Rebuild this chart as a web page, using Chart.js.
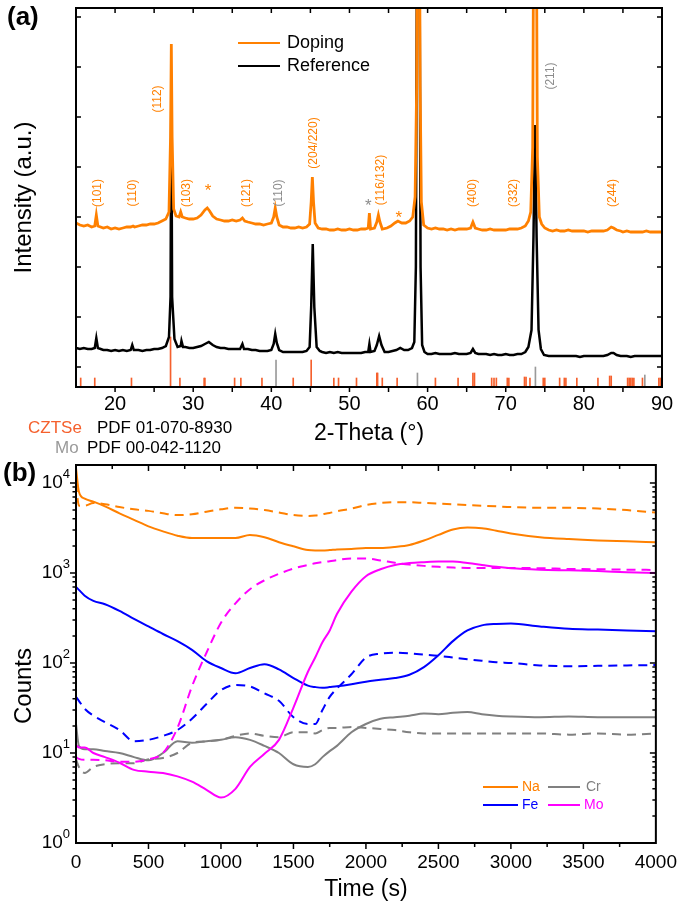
<!DOCTYPE html>
<html>
<head>
<meta charset="utf-8">
<script src="https://cdn.jsdelivr.net/npm/chart.js@4.4.1/dist/chart.umd.min.js"></script>
<style>
  body { margin: 0; background: #fff; width: 685px; height: 914px; position: relative; overflow: hidden; }
  canvas { position: absolute; left: 0; }
  #xrd { top: 0; }
  #sims { top: 455px; }
</style>
</head>
<body>
<canvas id="xrd" width="685" height="460"></canvas>
<canvas id="sims" width="685" height="459"></canvas>
<script>
// ---- (a) XRD patterns (intensity in arbitrary units) ----
const dopingTheta = [
  15, 15.5, 16, 16.5, 17, 17.4, 17.6, 17.8, 18.5, 19,
  19.5, 20, 20.5, 21, 21.5, 22, 22.3, 22.5, 23, 23.5,
  24, 24.5, 25, 25.5, 26, 26.5, 26.9, 27.1, 27.2, 27.3,
  27.5, 27.8, 28.2, 28.4, 28.6, 29, 29.5, 30, 30.5, 31,
  31.5, 31.8, 32.1, 32.5, 33, 33.5, 34, 34.5, 35, 35.5,
  36, 36.3, 36.6, 37, 37.5, 38, 38.5, 39, 39.5, 40,
  40.3, 40.5, 40.7, 41, 41.5, 42, 42.5, 43, 43.5, 44,
  44.5, 44.9, 45.1, 45.25, 45.4, 45.6, 46, 46.5, 47, 47.5,
  48, 48.5, 49, 49.5, 50, 50.5, 51, 51.5, 52, 52.4,
  52.55, 52.7, 53.2, 53.5, 53.7, 53.9, 54.2, 54.8, 55.3, 55.8,
  56.2, 56.7, 57.2, 57.7, 58.1, 58.4, 58.6, 58.75, 58.9, 59.05,
  59.2, 59.5, 60, 60.5, 61, 61.5, 62, 62.5, 63, 63.5,
  64, 64.5, 65, 65.5, 65.8, 66.1, 66.5, 67, 67.5, 68,
  68.5, 69, 69.5, 70, 70.5, 71, 71.5, 72, 72.5, 72.9,
  73.2, 73.45, 73.65, 73.85, 74.05, 74.3, 74.6, 75, 75.5, 76,
  76.5, 77, 77.5, 78, 78.5, 79, 79.5, 80, 80.5, 81,
  81.5, 82, 82.5, 83, 83.5, 83.8, 84.2, 84.7, 85, 85.5,
  86, 86.5, 87, 87.5, 88, 88.5, 89, 89.5, 90
];
const dopingCounts = [
  164, 162, 161, 162, 160, 161, 172, 161, 159, 160,
  158, 159, 158, 159, 160, 160, 161, 160, 161, 162,
  162, 163, 163, 164, 166, 168, 175, 250, 343, 250,
  178, 171, 170, 175, 170, 169, 168, 168, 169, 172,
  177, 179, 176, 171, 168, 167, 166, 166, 167, 166,
  167, 169, 166, 165, 164, 163, 163, 162, 163, 164,
  170, 179, 170, 162, 160, 160, 159, 159, 160, 159,
  160, 163, 185, 210, 185, 164, 159, 158, 158, 157,
  157, 158, 157, 157, 158, 157, 157, 158, 158, 159,
  174, 158, 159, 165, 172, 165, 158, 159, 161, 164,
  166, 164, 164, 166, 170, 190, 300, 600, 600, 300,
  185, 162, 159, 158, 159, 158, 158, 157, 158, 157,
  158, 158, 158, 159, 165, 159, 158, 157, 157, 158,
  157, 157, 157, 157, 158, 158, 158, 159, 161, 166,
  175, 240, 600, 600, 230, 170, 163, 159, 157, 156,
  157, 156, 156, 157, 156, 156, 156, 156, 155, 156,
  156, 156, 156, 157, 160, 159, 157, 156, 155, 156,
  155, 155, 155, 155, 156, 155, 155, 155, 155
];
const referenceTheta = [
  15, 15.5, 16, 16.5, 17, 17.4, 17.6, 17.8, 18.5, 19,
  19.5, 20, 20.5, 21, 21.5, 22, 22.2, 22.4, 23, 23.5,
  24, 24.5, 25, 25.5, 26, 26.5, 26.9, 27.1, 27.2, 27.3,
  27.6, 28, 28.4, 28.5, 28.7, 29, 29.5, 30, 30.5, 31,
  31.5, 32, 32.5, 33, 33.5, 34, 34.5, 35, 35.5, 36,
  36.3, 36.5, 37, 37.5, 38, 38.5, 39, 39.5, 40, 40.3,
  40.5, 40.7, 41, 41.5, 42, 42.5, 43, 43.5, 44, 44.5,
  44.9, 45.1, 45.3, 45.5, 45.8, 46.2, 46.5, 47, 47.5, 48,
  48.5, 49, 49.5, 50, 50.5, 51, 51.5, 52, 52.4, 52.55,
  52.7, 53.2, 53.5, 53.8, 54.1, 54.5, 55, 55.5, 56, 56.5,
  57, 57.5, 58, 58.3, 58.5, 58.7, 58.9, 59.1, 59.3, 59.6,
  60, 60.5, 61, 61.5, 62, 62.5, 63, 63.5, 64, 64.5,
  65, 65.5, 65.8, 66.1, 66.5, 67, 67.5, 68, 68.5, 69,
  69.5, 70, 70.5, 71, 71.5, 72, 72.5, 72.9, 73.3, 73.55,
  73.75, 73.95, 74.2, 74.5, 74.9, 75.5, 76, 76.5, 77, 77.5,
  78, 78.5, 79, 79.5, 80, 80.5, 81, 81.5, 82, 82.5,
  83, 83.5, 83.8, 84.2, 84.7, 85, 85.5, 86, 86.5, 87,
  87.5, 88, 88.5, 89, 89.5, 90
];
const referenceCounts = [
  39, 38, 39, 38, 38, 39, 49, 39, 37, 37,
  36, 37, 36, 37, 36, 37, 42, 37, 37, 36,
  37, 37, 38, 38, 39, 41, 50, 90, 300, 90,
  48, 40, 41, 46, 40, 40, 39, 39, 40, 41,
  43, 45, 42, 40, 39, 39, 38, 38, 38, 38,
  43, 38, 38, 37, 37, 36, 36, 36, 37, 43,
  53, 44, 37, 35, 35, 35, 35, 35, 35, 36,
  40, 80, 143, 80, 40, 36, 35, 34, 35, 34,
  35, 34, 34, 34, 34, 34, 34, 35, 35, 43,
  35, 36, 42, 51, 42, 35, 35, 36, 37, 39,
  37, 37, 39, 45, 120, 600, 600, 120, 42, 35,
  33, 33, 34, 33, 33, 33, 33, 34, 33, 33,
  33, 34, 38, 34, 33, 33, 33, 32, 33, 32,
  32, 33, 32, 32, 33, 33, 35, 40, 57, 150,
  262, 150, 57, 38, 32, 31, 31, 31, 31, 31,
  31, 31, 31, 30, 31, 31, 31, 31, 31, 31,
  32, 34, 34, 32, 31, 31, 31, 30, 31, 31,
  31, 31, 31, 31, 31, 31
];
// reference pattern sticks
const cztseTheta = [
  15.6, 17.4, 22.1, 27.1, 28.3, 31.4, 31.5, 35.3, 36.1, 38.8,
  42.8, 45.1, 48.0, 48.6, 50.9, 53.5, 53.6, 54.2, 56.1, 61.0,
  63.9, 65.8, 66.0, 68.2, 68.5, 68.8, 70.2, 70.4, 72.4, 72.6,
  73.1, 74.8, 75.0, 76.9, 77.5, 77.7, 79.1, 81.8, 83.3, 83.5,
  85.6, 85.8, 86.0, 86.2, 86.4, 87.5, 89.6, 89.8
];
const cztseHeight = [
  9, 9, 9, 50, 9, 9, 9, 9, 9, 9,
  9, 27, 9, 9, 9, 14, 14, 9, 9, 9,
  9, 14, 14, 9, 9, 9, 9, 9, 10, 10,
  9, 9, 9, 9, 9, 9, 9, 9, 11, 11,
  9, 9, 9, 9, 9, 9, 9, 9
];
const moTheta = [40.6, 58.7, 73.8, 87.8];
const moHeight = [27, 14, 20, 12];
const thetaTicks = [20, 30, 40, 50, 60, 70, 80, 90];

// ---- (b) depth profiles ----
const timeS = [
  0, 20, 60, 120, 200, 300, 400, 500, 600, 700,
  800, 900, 1000, 1100, 1200, 1300, 1400, 1500, 1600, 1650,
  1700, 1750, 1800, 1900, 2000, 2100, 2200, 2300, 2400, 2500,
  2600, 2700, 2800, 2900, 3000, 3200, 3400, 3600, 3800, 4000
];
const naSolid = [
  14700, 8000, 6700, 6200, 5500, 4600, 3900, 3300, 2900, 2600,
  2450, 2450, 2450, 2450, 2650, 2500, 2200, 1980, 1800, 1780,
  1780, 1800, 1830, 1850, 1900, 1900, 1950, 2050, 2300, 2650,
  3050, 3200, 3150, 2950, 2750, 2500, 2380, 2300, 2250, 2200
];
const naDashed = [
  10000, 5600, 5600, 6000, 5800, 5400, 5100, 4900, 4600, 4400,
  4500, 4800, 5100, 5300, 5200, 5000, 4700, 4400, 4300, 4350,
  4500, 4650, 4850, 5200, 5700, 6000, 6100, 6100, 6000, 5900,
  5800, 5700, 5600, 5500, 5400, 5300, 5300, 5200, 5000, 4700
];
const feSolid = [
  700, 650, 560, 490, 450, 380, 310, 255, 210, 175,
  140, 105, 88, 77, 88, 97, 85, 68, 56, 54,
  53, 54, 55, 58, 62, 65, 68, 74, 90, 122,
  175, 230, 262, 272, 275, 255, 240, 235, 230, 225
];
const feDashed = [
  42, 38, 31, 26, 22, 18, 13.5, 14, 15.5, 18,
  24, 35, 50, 57, 55, 46, 38, 25, 21, 21,
  30, 42, 52, 75, 115, 127, 130, 128, 124, 120,
  115, 110, 106, 102, 100, 94, 92, 93, 94, 95
];
const moSolid = [
  12.3, 11.5, 11.5, 10, 9, 7.8, 6.5, 6.2, 6, 5.5,
  4.8, 3.9, 3.2, 4, 7, 9.8, 14, 32, 80, 115,
  170, 230, 350, 620, 920, 1100, 1230, 1290, 1320, 1340,
  1340, 1290, 1230, 1170, 1130, 1090, 1070, 1050, 1020, 1000
];
const moDashed = [
  9, 8.6, 8.4, 8.4, 8.3, 8, 8, 8.5, 10, 19,
  55, 130, 280, 460, 660, 830, 980, 1120, 1230, 1280,
  1320, 1350, 1390, 1450, 1450, 1380, 1300, 1240, 1200, 1170,
  1150, 1140, 1140, 1140, 1140, 1130, 1110, 1100, 1090, 1080
];
const crSolid = [
  21, 12, 11, 11, 10.5, 10, 9, 8.3, 10, 13.5,
  13, 13.5, 14, 15, 14, 12, 10, 7.5, 7, 7.5,
  9, 10.5, 12, 17, 21, 24, 25, 26, 27.5, 27,
  28, 28.5, 27, 26, 25.5, 25, 25.5, 25, 25, 25
];
const crDashed = [
  8.5, 7, 6, 7, 7.5, 7.7, 7.7, 8.5, 8.8, 10,
  13, 13.5, 14, 15.5, 16.5, 15.5, 15, 17, 17, 16.5,
  18, 19, 19, 19.5, 19, 18.5, 18, 17, 16.5, 16.5,
  16.5, 16.5, 16.5, 16.5, 16.5, 16.5, 16, 16.5, 16, 16.5
];
const timeTicks = [0, 500, 1000, 1500, 2000, 2500, 3000, 3500, 4000];
const countTicks = [1, 10, 100, 1000, 10000];

const FONT = "'Liberation Sans', Arial, sans-serif";
const ORANGE = '#ff8000';
const CZTSE = '#f5602d';
const GREY = '#8c8c8c';
Chart.defaults.font.family = FONT;
Chart.defaults.color = '#000';

const toPoints = (xs, ys) => xs.map((x, i) => ({x: x, y: ys[i]}));
const toSticks = (xs, hs) => xs.map((x, i) => ({x: x, y: [0, hs[i]]}));

// box round the plot with tick marks on all four sides
function drawFrame(chart, xMarks, yMarks, leftOut) {
  const {ctx, chartArea: a, scales: {x, y}} = chart;
  ctx.save();
  ctx.strokeStyle = '#000';
  ctx.lineWidth = 1.5;
  ctx.beginPath();
  xMarks.forEach(([v, len]) => {
    const p = x.getPixelForValue(v);
    ctx.moveTo(p, a.bottom); ctx.lineTo(p, a.bottom + len);
    ctx.moveTo(p, a.top); ctx.lineTo(p, a.top + len);
  });
  yMarks.forEach(([v, len]) => {
    const p = y.getPixelForValue(v);
    ctx.moveTo(a.left, p); ctx.lineTo(leftOut ? a.left - len : a.left + len, p);
    ctx.moveTo(a.right, p); ctx.lineTo(a.right - len, p);
  });
  ctx.stroke();
  ctx.lineWidth = 2;
  ctx.strokeRect(a.left, a.top, a.right - a.left, a.bottom - a.top);
  ctx.restore();
}

function text(ctx, str, x, y, size, color, opts) {
  opts = opts || {};
  ctx.save();
  ctx.font = (opts.bold ? 'bold ' : '') + size + 'px ' + FONT;
  ctx.fillStyle = color;
  ctx.textAlign = opts.align || 'left';
  ctx.textBaseline = opts.baseline || 'middle';
  ctx.translate(x, y);
  if (opts.rotate) ctx.rotate(opts.rotate);
  ctx.fillText(str, 0, 0);
  ctx.restore();
}

function legendLine(ctx, x1, x2, y, color) {
  ctx.save();
  ctx.strokeStyle = color;
  ctx.lineWidth = 2;
  ctx.beginPath(); ctx.moveTo(x1, y); ctx.lineTo(x2, y); ctx.stroke();
  ctx.restore();
}

// ---------- panel (a) ----------
const peakLabels = [
  ['(101)', 17.8, 194, ORANGE], ['(110)', 22.3, 194, ORANGE], ['(112)', 25.4, 288, ORANGE],
  ['(103)', 29.2, 194, ORANGE], ['(121)', 36.9, 194, ORANGE], ['(110)', 40.9, 194, GREY],
  ['(204/220)', 45.4, 244, ORANGE], ['(116/132)', 54.0, 207, ORANGE], ['(400)', 65.8, 194, ORANGE],
  ['(332)', 71.0, 194, ORANGE], ['(211)', 75.8, 311, GREY], ['(244)', 83.7, 194, ORANGE]
];
const stars = [[31.9, 196, ORANGE], [52.4, 181, GREY], [56.3, 169, ORANGE]];

const thetaMarks = [];
for (let v = 20; v < 90; v += 5) thetaMarks.push([v, 5]);
const intensityMarks = [];
for (let v = 20; v < 379; v += 50) intensityMarks.push([v, 5]);

new Chart(document.getElementById('xrd'), {
  type: 'line',
  data: {
    datasets: [
      {label: 'Doping', data: toPoints(dopingTheta, dopingCounts), borderColor: ORANGE, borderWidth: 2.8, order: 0},
      {label: 'Reference', data: toPoints(referenceTheta, referenceCounts), borderColor: '#000', borderWidth: 2.5, order: 1},
      {type: 'bar', label: 'CZTSe', data: toSticks(cztseTheta, cztseHeight), backgroundColor: CZTSE,
       barThickness: 1, grouped: false, order: 2},
      {type: 'bar', label: 'Mo', data: toSticks(moTheta, moHeight), backgroundColor: '#9a9a9a',
       barThickness: 1, grouped: false, order: 3}
    ]
  },
  options: {
    responsive: false,
    animation: false,
    events: [],
    layout: {padding: {top: 8, right: 23, bottom: 5, left: 0}},
    elements: {point: {radius: 0}, line: {tension: 0}},
    plugins: {legend: {display: false}, tooltip: {enabled: false}},
    scales: {
      x: {
        type: 'linear', min: 15, max: 90, offset: false,
        afterBuildTicks: s => { s.ticks = thetaTicks.map(v => ({value: v})); },
        afterFit: s => { s.height = 68; },
        grid: {display: false, drawTicks: false},
        border: {display: false},
        ticks: {font: {size: 20}, color: '#000', padding: 5, maxRotation: 0, autoSkip: false,
                callback: v => String(v)},
        title: {display: true, text: '2-Theta (°)', font: {size: 23}, color: '#000', padding: {top: 0, bottom: 8}}
      },
      y: {
        min: 0, max: 379,
        afterFit: s => { s.width = 76; },
        grid: {display: false, drawTicks: false},
        border: {display: false},
        ticks: {display: false},
        title: {display: true, text: 'Intensity (a.u.)', font: {size: 24}, color: '#000', padding: {top: 10, bottom: 0}}
      }
    }
  },
  plugins: [{
    id: 'xrdDecor',
    afterDraw(chart) {
      const {ctx, scales: {x, y}} = chart;
      drawFrame(chart, thetaMarks, intensityMarks, false);
      peakLabels.forEach(([t, th, h, c]) => {
        text(ctx, t, x.getPixelForValue(th), y.getPixelForValue(h), 12, c, {align: 'center', rotate: -Math.PI / 2});
      });
      stars.forEach(([th, h, c]) => {
        text(ctx, '*', x.getPixelForValue(th), y.getPixelForValue(h), 17, c, {align: 'center'});
      });
      // legend
      legendLine(ctx, 238, 280, 43, ORANGE);
      text(ctx, 'Doping', 287, 43, 18, '#000');
      legendLine(ctx, 238, 280, 66, '#000');
      text(ctx, 'Reference', 287, 66, 18, '#000');
      // panel tag and reference cards
      text(ctx, '(a)', 7, 18, 26, '#000', {bold: true});
      text(ctx, 'CZTSe', 28, 433, 17, CZTSE, {baseline: 'alphabetic'});
      text(ctx, 'PDF 01-070-8930', 97, 433, 17, '#000', {baseline: 'alphabetic'});
      text(ctx, 'Mo', 55, 453, 17, '#9a9a9a', {baseline: 'alphabetic'});
      text(ctx, 'PDF 00-042-1120', 87, 453, 17, '#000', {baseline: 'alphabetic'});
    }
  }]
});

// ---------- panel (b) ----------
const timeMarks = [];
for (let v = 250; v < 4000; v += 250) timeMarks.push([v, v % 500 === 0 ? 6 : 4]);
const countMarks = [];
for (let e = 0; e < 5; e++) {
  if (e > 0) countMarks.push([Math.pow(10, e), 6]);
  if (e < 4) for (let m = 2; m < 10; m++) countMarks.push([m * Math.pow(10, e), 3.5]);
}

const series = (label, values, color, dashed) => ({
  label: label,
  data: toPoints(timeS, values),
  borderColor: color,
  borderWidth: 2,
  borderDash: dashed ? [9, 6] : [],
  cubicInterpolationMode: 'monotone'
});

new Chart(document.getElementById('sims'), {
  type: 'line',
  data: {
    datasets: [
      series('Na', naSolid, ORANGE, false),
      series('Na ref', naDashed, ORANGE, true),
      series('Mo', moSolid, '#ff00ff', false),
      series('Mo ref', moDashed, '#ff00ff', true),
      series('Fe', feSolid, '#0000ff', false),
      series('Fe ref', feDashed, '#0000ff', true),
      series('Cr', crSolid, '#808080', false),
      series('Cr ref', crDashed, '#808080', true)
    ]
  },
  options: {
    responsive: false,
    animation: false,
    events: [],
    layout: {padding: {top: 10, right: 23, bottom: 0, left: 0}},
    elements: {point: {radius: 0}},
    plugins: {legend: {display: false}, tooltip: {enabled: false}},
    scales: {
      x: {
        type: 'linear', min: 0, max: 4000,
        afterBuildTicks: s => { s.ticks = timeTicks.map(v => ({value: v})); },
        afterFit: s => { s.height = 71; },
        grid: {display: false, drawTicks: false},
        border: {display: false},
        ticks: {font: {size: 19}, color: '#000', padding: 8, maxRotation: 0, autoSkip: false,
                callback: v => String(v)},
        title: {display: true, text: 'Time (s)', font: {size: 23}, color: '#000', padding: {top: 0, bottom: 11}}
      },
      y: {
        type: 'logarithmic', min: 1, max: 15849,
        afterBuildTicks: s => { s.ticks = countTicks.map(v => ({value: v})); },
        afterFit: s => { s.width = 76; },
        grid: {display: false, drawTicks: false},
        border: {display: false},
        ticks: {display: false}
      }
    }
  },
  plugins: [{
    id: 'simsDecor',
    afterDraw(chart) {
      const {ctx, chartArea: a, scales: {y}} = chart;
      drawFrame(chart, timeMarks, countMarks, true);
      // powers of ten on the count axis
      countTicks.forEach(v => {
        const p = y.getPixelForValue(v);
        const exp = String(Math.round(Math.log10(v)));
        ctx.save();
        ctx.font = '13px ' + FONT;
        const w = ctx.measureText(exp).width;
        ctx.restore();
        text(ctx, exp, a.left - 6, p - 9, 13, '#000', {align: 'right'});
        text(ctx, '10', a.left - 6 - w, p, 19, '#000', {align: 'right'});
      });
      // axis title sits low, next to the lower decades
      text(ctx, 'Counts', 24, 231, 24, '#000', {align: 'center', rotate: -Math.PI / 2});
      // legend
      legendLine(ctx, 483, 518, 332, ORANGE);
      text(ctx, 'Na', 522, 332, 14, ORANGE);
      legendLine(ctx, 548, 580, 332, '#808080');
      text(ctx, 'Cr', 586, 332, 14, '#808080');
      legendLine(ctx, 483, 518, 350, '#0000ff');
      text(ctx, 'Fe', 522, 350, 14, '#0000ff');
      legendLine(ctx, 548, 580, 350, '#ff00ff');
      text(ctx, 'Mo', 584, 350, 14, '#ff00ff');
      text(ctx, '(b)', 3, 19, 26, '#000', {bold: true});
    }
  }]
});
</script>
</body>
</html>
